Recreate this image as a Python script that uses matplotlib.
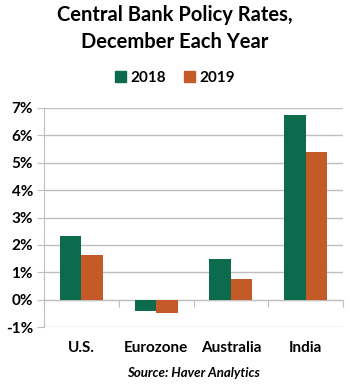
import numpy as np
import matplotlib
matplotlib.use('Agg')
import matplotlib.pyplot as plt
from matplotlib.patches import Patch
from matplotlib.ticker import FuncFormatter
import matplotlib.transforms as mtransforms

plt.rcParams['font.family'] = ['Lato', 'DejaVu Sans']

categories = ['U.S.', 'Eurozone', 'Australia', 'India']
years = ['2018', '2019']
rates_2018 = [2.33, -0.40, 1.50, 6.75]
rates_2019 = [1.63, -0.50, 0.75, 5.40]
y_ticks = [-1, 0, 1, 2, 3, 4, 5, 6, 7]

green = '#0B6B4C'
orange = '#C55A29'
grid_grey = '#BFBFBF'

fig = plt.figure(figsize=[3.5, 3.84], dpi=100)
ax = fig.add_axes([0.126, 0.148, 0.854, 0.571])

x = np.arange(len(categories))
width = 0.287
ax.bar(x - width / 2, rates_2018, width, color=green, zorder=3)
ax.bar(x + width / 2, rates_2019, width, color=orange, zorder=3)

ax.set_xlim(-0.5, len(categories) - 0.5)
ax.set_ylim(-1, 7)
ax.set_yticks(y_ticks)
ax.yaxis.set_major_formatter(FuncFormatter(lambda v, p: '{:.0f}%'.format(v)))
ax.grid(axis='y', color=grid_grey, linewidth=1, zorder=0)
ax.set_axisbelow(True)

for side in ['top', 'right']:
    ax.spines[side].set_visible(False)
ax.spines['left'].set_color(grid_grey)
ax.spines['bottom'].set_position(('data', 0))
ax.spines['bottom'].set_color(grid_grey)

ax.set_xticks(np.arange(-0.5, len(categories), 1.0))
ax.set_xticklabels([])
ax.tick_params(axis='x', length=5, color=grid_grey, direction='out')
ax.tick_params(axis='y', length=5, color=grid_grey, labelsize=11, pad=3)
for lab in ax.get_yticklabels():
    lab.set_fontweight('bold')

trans = mtransforms.blended_transform_factory(ax.transData, ax.transAxes)
for i, cat in enumerate(categories):
    ax.text(i, -0.095, cat, transform=trans, ha='center', va='center',
            fontsize=11, fontweight='bold')

fig.text(0.5, 0.962, 'Central Bank Policy Rates,', ha='center', va='center',
         fontsize=14.5, fontweight='bold')
fig.text(0.5, 0.89, 'December Each Year', ha='center', va='center',
         fontsize=14.5, fontweight='bold')

handles = [Patch(color=green, label=years[0]), Patch(color=orange, label=years[1])]
fig.legend(handles=handles, loc='center', bbox_to_anchor=(0.5, 0.797), ncol=2,
           frameon=False, prop={'weight': 'bold', 'size': 11},
           handlelength=0.7, handleheight=0.7, handletextpad=0.3, columnspacing=1.2)

fig.text(0.552, 0.028, 'Source: Haver Analytics', ha='center', va='center',
         fontsize=9.5, fontweight='bold', style='italic')

plt.savefig('out.png', dpi=100)
